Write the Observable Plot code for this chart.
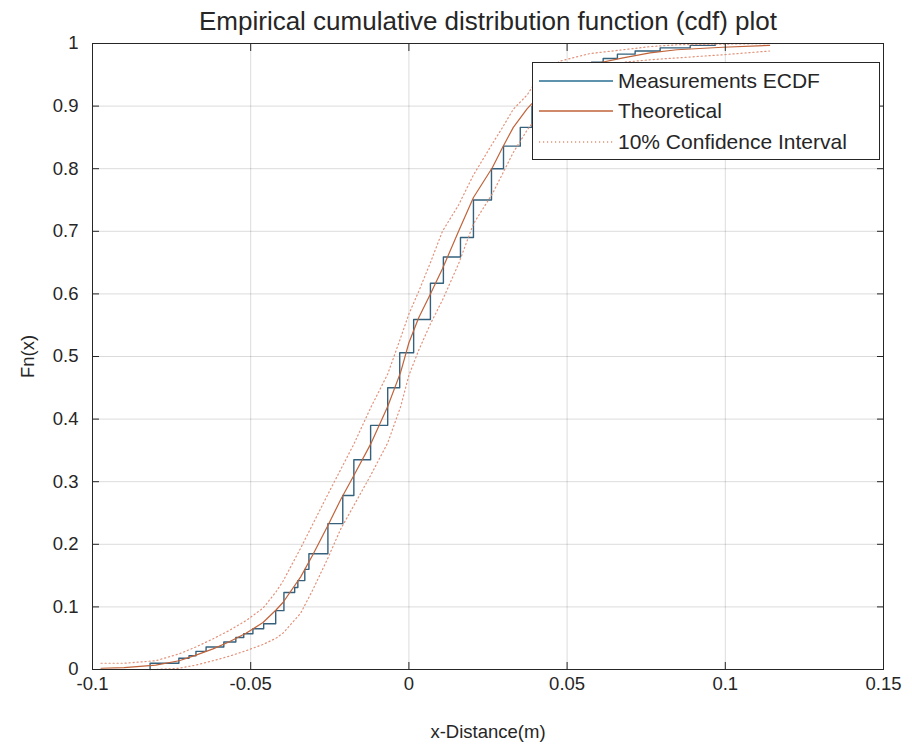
<!DOCTYPE html>
<html>
<head>
<meta charset="utf-8">
<script src="https://cdn.jsdelivr.net/npm/d3@7"></script>
<script src="https://cdn.jsdelivr.net/npm/@observablehq/plot@0.6"></script>
<style>
  html, body { margin: 0; padding: 0; background: #fff; }
  #chart { position: relative; width: 912px; height: 749px; font-family: "Liberation Sans", Arial, sans-serif; color: #262626; }
  #legend { position: absolute; left: 532px; top: 62px; width: 348px; height: 98px; box-sizing: border-box;
            border: 1px solid #262626; background: #fff; }
  #legend .row { position: absolute; left: 0; height: 26px; width: 100%; }
  #legend svg { position: absolute; left: 6px; top: 0; }
  #legend span { position: absolute; left: 85px; top: 0; font-size: 21px; line-height: 26px; white-space: nowrap; }
</style>
</head>
<body>
<div id="chart"></div>
<script>
// Sorted sample positions (m) and the empirical CDF level reached at each one
const ecdfX = [-0.0818, -0.0727, -0.0695, -0.0673, -0.0641, -0.0585, -0.0547, -0.0522, -0.0493, -0.0459,
               -0.0421, -0.0395, -0.0361, -0.0351, -0.0329, -0.0316, -0.0256, -0.0209, -0.0174, -0.0121,
               -0.0067, -0.0029, 0.0015, 0.0068, 0.0109, 0.0163, 0.0204, 0.0261, 0.0299, 0.0352,
               0.0389, 0.0431, 0.0479, 0.0526, 0.0577, 0.0614, 0.0659, 0.0715, 0.0794, 0.0889, 0.0968];
const ecdfF = [0.010, 0.018, 0.022, 0.029, 0.036, 0.044, 0.051, 0.057, 0.065, 0.073,
               0.094, 0.123, 0.131, 0.142, 0.160, 0.185, 0.233, 0.278, 0.335, 0.390,
               0.450, 0.506, 0.559, 0.617, 0.659, 0.690, 0.750, 0.800, 0.836, 0.866,
               0.900, 0.925, 0.945, 0.960, 0.970, 0.976, 0.983, 0.988, 0.993, 0.997, 1.000];

// Theoretical CDF and its confidence band, sampled along x
const theoX  = [-0.0973, -0.0900, -0.0800, -0.0726, -0.0673, -0.0619, -0.0569, -0.0515, -0.0461, -0.0420,
                -0.0398, -0.0342, -0.0304, -0.0256, -0.0215, -0.0174, -0.0121, -0.0067, -0.0026, 0.0000,
                0.0031, 0.0068, 0.0106, 0.0157, 0.0204, 0.0264, 0.0296, 0.0330, 0.0374, 0.0415,
                0.0478, 0.0573, 0.0677, 0.0762, 0.0847, 0.0992, 0.1140];
const theoF  = [0.002, 0.003, 0.007, 0.014, 0.023, 0.033, 0.044, 0.058, 0.075, 0.095,
                0.107, 0.148, 0.183, 0.230, 0.272, 0.310, 0.360, 0.420, 0.475, 0.522,
                0.562, 0.600, 0.640, 0.700, 0.754, 0.802, 0.834, 0.866, 0.896, 0.918,
                0.944, 0.966, 0.977, 0.985, 0.990, 0.994, 0.997];
const bandHi = [0.010, 0.010, 0.014, 0.025, 0.036, 0.049, 0.062, 0.078, 0.098, 0.124,
                0.141, 0.194, 0.232, 0.280, 0.320, 0.360, 0.418, 0.472, 0.530, 0.568,
                0.604, 0.650, 0.700, 0.742, 0.790, 0.840, 0.866, 0.895, 0.918, 0.950,
                0.972, 0.984, 0.990, 0.995, 0.998, 0.999, 1.000];
const bandLo = [0.000, 0.000, 0.000, 0.002, 0.007, 0.014, 0.021, 0.030, 0.040, 0.050,
                0.058, 0.090, 0.127, 0.178, 0.225, 0.262, 0.310, 0.362, 0.420, 0.470,
                0.510, 0.552, 0.590, 0.648, 0.712, 0.760, 0.792, 0.826, 0.862, 0.890,
                0.918, 0.945, 0.970, 0.974, 0.977, 0.982, 0.988];

const xTicks = [-0.1, -0.05, 0, 0.05, 0.1, 0.15];
const yTicks = [0, 0.1, 0.2, 0.3, 0.4, 0.5, 0.6, 0.7, 0.8, 0.9, 1];
const seriesNames = ["Measurements ECDF", "Theoretical", "10% Confidence Interval"];
const titleText = "Empirical cumulative distribution function (cdf) plot";
const xLabel = "x-Distance(m)";
const yLabel = "Fn(x)";

const BLUE = "#35617d";
const ORANGE = "#c0633a";
const DOT = "#e2927a";
const INK = "#262626";

// Step line starts on the x axis at the first sample
const ecdfRows = [{x: ecdfX[0], F: 0}, ...ecdfX.map((x, i) => ({x, F: ecdfF[i]}))];
const theoRows = theoX.map((x, i) => ({x, F: theoF[i], hi: bandHi[i], lo: bandLo[i]}));

const fmt = d => String(Math.round(d * 100) / 100);
const blank = () => "";

const plot = Plot.plot({
  width: 912,
  height: 749,
  marginLeft: 92,
  marginRight: 29,
  marginTop: 43,
  marginBottom: 80,
  style: {fontFamily: "'Liberation Sans', Arial, sans-serif", fontSize: "18px", color: INK, background: "#fff"},
  x: {domain: [-0.1, 0.15]},
  y: {domain: [0, 1]},
  marks: [
    Plot.gridX(xTicks, {stroke: "#000", strokeOpacity: 0.14}),
    Plot.gridY(yTicks, {stroke: "#000", strokeOpacity: 0.14}),
    Plot.line(ecdfRows, {x: "x", y: "F", curve: "step-after", stroke: BLUE, strokeWidth: 1.4}),
    Plot.line(theoRows, {x: "x", y: "F", stroke: ORANGE, strokeWidth: 1.2}),
    Plot.line(theoRows, {x: "x", y: "hi", stroke: DOT, strokeWidth: 1.2, strokeDasharray: "1.2,2.8"}),
    Plot.line(theoRows, {x: "x", y: "lo", stroke: DOT, strokeWidth: 1.2, strokeDasharray: "1.2,2.8"}),
    Plot.axisX(xTicks, {anchor: "bottom", tickSize: -7, tickPadding: 14, tickFormat: fmt, fontSize: 18.5,
      label: xLabel, labelAnchor: "center", labelArrow: "none", labelOffset: 68}),
    Plot.axisX(xTicks, {anchor: "top", tickSize: -7, tickFormat: blank, label: null}),
    Plot.axisY(yTicks, {anchor: "left", tickSize: -7, tickPadding: 21, tickFormat: fmt, fontSize: 18.5,
      label: yLabel, labelAnchor: "center", labelArrow: "none", labelOffset: 72}),
    Plot.axisY(yTicks, {anchor: "right", tickSize: -7, tickFormat: blank, label: null}),
    Plot.frame({stroke: INK}),
    Plot.text([titleText], {text: d => d, frameAnchor: "top", dy: -32, fontSize: 26, fill: INK})
  ]
});

const chart = document.getElementById("chart");
chart.appendChild(plot);

// Legend box drawn over the upper-right corner of the axes
const legend = document.createElement("div");
legend.id = "legend";
const rowTops = [5, 35, 66];
const styles = [
  {stroke: "#5f93ad", dash: null, width: 2},
  {stroke: ORANGE, dash: null, width: 1.4},
  {stroke: DOT, dash: "1.2,2.8", width: 1.3}
];
seriesNames.forEach((name, i) => {
  const row = document.createElement("div");
  row.className = "row";
  row.style.top = rowTops[i] + "px";
  const s = styles[i];
  row.innerHTML = `<svg width="74" height="26"><line x1="0" x2="74" y1="13" y2="13" stroke="${s.stroke}" stroke-width="${s.width}"${s.dash ? ` stroke-dasharray="${s.dash}"` : ""}/></svg><span>${name}</span>`;
  legend.appendChild(row);
});
chart.appendChild(legend);
</script>
</body>
</html>
